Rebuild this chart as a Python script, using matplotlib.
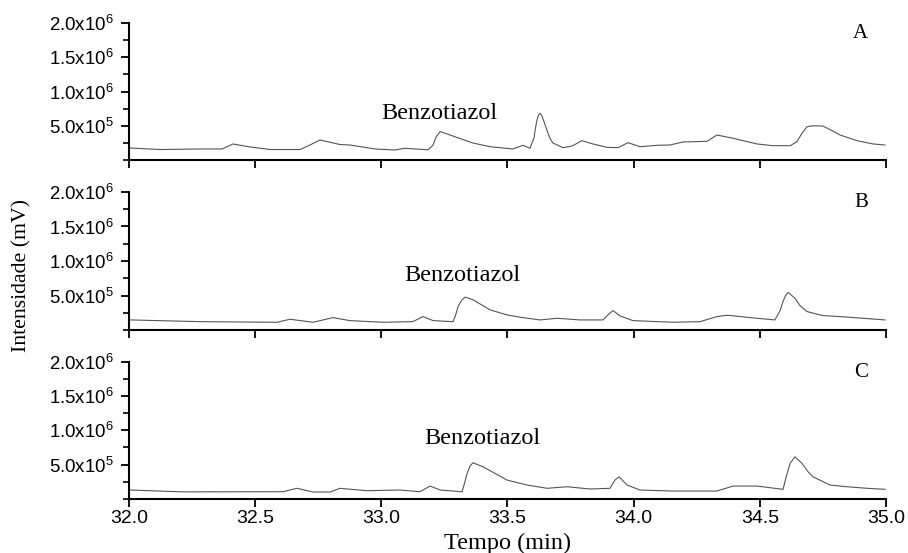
import matplotlib
matplotlib.use("Agg")
import matplotlib.pyplot as plt
from matplotlib.ticker import MultipleLocator, FuncFormatter

plt.rcParams['mathtext.fontset'] = 'custom'
plt.rcParams['mathtext.rm'] = 'Liberation Sans'
plt.rcParams['mathtext.it'] = 'Liberation Sans'

# ---- data (time in min, intensity in units of 1e5) ----
time_a = [32.004, 32.123, 32.281, 32.369, 32.412, 32.480, 32.559, 32.678, 32.717, 32.757,
          32.836, 32.876, 32.975, 33.054, 33.094, 33.185, 33.205, 33.217, 33.233, 33.272,
          33.363, 33.431, 33.522, 33.561, 33.589, 33.605, 33.611, 33.617, 33.623, 33.629,
          33.637, 33.645, 33.656, 33.668, 33.680, 33.720, 33.756, 33.795, 33.839, 33.894,
          33.938, 33.978, 34.025, 34.093, 34.144, 34.196, 34.291, 34.330, 34.394, 34.489,
          34.552, 34.620, 34.647, 34.667, 34.687, 34.710, 34.750, 34.780, 34.818, 34.885,
          34.949, 34.996]
inten_a = [1.75, 1.53, 1.61, 1.61, 2.34, 1.90, 1.53, 1.53, 2.19, 2.92,
           2.26, 2.19, 1.61, 1.46, 1.71, 1.49, 2.19, 3.36, 4.16, 3.65,
           2.48, 1.94, 1.61, 2.15, 1.71, 3.21, 4.70, 5.84, 6.60, 6.82,
           6.40, 5.55, 4.38, 3.20, 2.48, 1.80, 2.04, 2.82, 2.34, 1.85,
           1.80, 2.53, 1.94, 2.15, 2.19, 2.63, 2.73, 3.65, 3.17, 2.34,
           2.09, 2.09, 2.67, 3.90, 4.86, 5.00, 4.96, 4.40, 3.65, 2.82,
           2.34, 2.19]

time_b = [32.004, 32.281, 32.587, 32.638, 32.729, 32.808, 32.876, 33.007, 33.125, 33.165,
          33.205, 33.284, 33.294, 33.304, 33.318, 33.332, 33.363, 33.431, 33.498, 33.561,
          33.629, 33.696, 33.787, 33.878, 33.898, 33.918, 33.946, 33.997, 34.156, 34.263,
          34.330, 34.370, 34.489, 34.560, 34.580, 34.592, 34.602, 34.612, 34.639, 34.660,
          34.687, 34.750, 34.818, 34.909, 34.996]
inten_b = [1.46, 1.21, 1.12, 1.56, 1.12, 1.79, 1.36, 1.12, 1.21, 1.94,
           1.36, 1.21, 2.10, 3.40, 4.30, 4.77, 4.38, 2.92, 2.19, 1.79,
           1.46, 1.70, 1.46, 1.46, 2.19, 2.82, 2.04, 1.36, 1.12, 1.21,
           1.94, 2.14, 1.70, 1.46, 2.80, 4.13, 5.00, 5.45, 4.63, 3.50,
           2.67, 2.09, 1.94, 1.70, 1.46]

time_c = [32.004, 32.214, 32.610, 32.666, 32.729, 32.797, 32.836, 32.943, 33.074, 33.153,
          33.193, 33.233, 33.320, 33.330, 33.340, 33.352, 33.363, 33.403, 33.498, 33.577,
          33.657, 33.736, 33.827, 33.906, 33.926, 33.942, 33.974, 34.025, 34.156, 34.330,
          34.394, 34.489, 34.592, 34.606, 34.620, 34.639, 34.667, 34.690, 34.710, 34.778,
          34.845, 34.925, 34.996]
inten_c = [1.27, 1.00, 1.02, 1.52, 0.98, 0.98, 1.52, 1.17, 1.27, 1.02,
           1.85, 1.27, 1.02, 2.30, 3.71, 4.80, 5.26, 4.67, 2.73, 2.00,
           1.52, 1.75, 1.42, 1.52, 2.73, 3.21, 2.00, 1.27, 1.12, 1.12,
           1.85, 1.85, 1.37, 3.40, 5.17, 6.13, 5.17, 4.00, 3.21, 2.00,
           1.75, 1.52, 1.37]

panel_labels = ['A', 'B', 'C']
peak_label = 'Benzotiazol'
peak_label_x = [33.23, 33.32, 33.40]
peak_label_y = [6.8e5, 7.9e5, 8.8e5]
x_ticks = [32.0, 32.5, 33.0, 33.5, 34.0, 34.5, 35.0]
y_ticks = [5e5, 1e6, 1.5e6, 2e6]

series = [(time_a, inten_a), (time_b, inten_b), (time_c, inten_c)]

fig = plt.figure(figsize=(9.08, 5.53), dpi=100)
W, H = 908, 553
left = 129 / W
width = (886 - 129) / W
panels_px = [(23, 160), (192, 330), (362, 498.7)]

def yfmt(v, pos):
    if v <= 0:
        return ''
    exp = 0
    m = v
    while m >= 10:
        m /= 10
        exp += 1
    return r'%.1fx10$^{%d}$' % (m, exp)

for i, ((t, y), (top, bot)) in enumerate(zip(series, panels_px)):
    ax = fig.add_axes([left, 1 - bot / H, width, (bot - top) / H])
    ax.plot(t, [v * 1e5 for v in y], color='#555555', lw=0.8)
    ax.set_xlim(32, 35)
    ax.set_ylim(0, 2e6)
    ax.spines['top'].set_visible(False)
    ax.spines['right'].set_visible(False)
    ax.spines['left'].set_linewidth(1.5)
    ax.spines['bottom'].set_linewidth(1.5)
    ax.set_yticks(y_ticks)
    ax.yaxis.set_minor_locator(MultipleLocator(2.5e5))
    ax.yaxis.set_major_formatter(FuncFormatter(yfmt))
    ax.set_xticks(x_ticks)
    ax.tick_params(axis='both', which='major', direction='out', length=6, width=1.3)
    ax.tick_params(axis='y', which='minor', direction='out', length=4, width=1.2)
    for lab in ax.get_yticklabels():
        lab.set_fontfamily('Liberation Sans')
        lab.set_fontsize(13.4)
    if i < 2:
        ax.set_xticklabels([])
    else:
        ax.set_xticklabels(['%.1f' % v for v in x_ticks], fontfamily='Liberation Sans', fontsize=14)
    ax.tick_params(axis='x', pad=2)
    ax.tick_params(axis='y', pad=5)
    ax.text(34.93, 1.85e6, panel_labels[i], fontfamily='Liberation Serif', fontsize=15,
            ha='right', va='center')
    ax.text(peak_label_x[i], peak_label_y[i], peak_label, fontfamily='Liberation Serif',
            fontsize=17.5, ha='center', va='center')
    ax.set_facecolor('none')

fig.text(22 / W, 1 - 276 / H, 'Intensidade (mV)', rotation=90, ha='center', va='center',
         fontfamily='Liberation Serif', fontsize=15.7)
fig.text(508 / W, 1 - 543 / H, 'Tempo (min)', ha='center', va='center',
         fontfamily='Liberation Serif', fontsize=17.5)

fig.savefig('out.png', dpi=100)
